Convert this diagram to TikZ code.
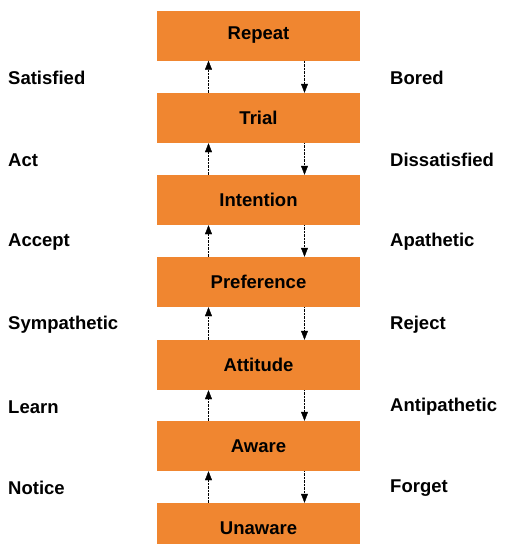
\documentclass[tikz,border=0pt]{standalone}
\usepackage{fontspec}
\setmainfont{Liberation Sans}
\usetikzlibrary{arrows.meta}
\definecolor{stageorange}{RGB}{240,134,48}
\begin{document}
\begin{tikzpicture}[x=1pt,y=-1pt]
\tikzstyle{stage}=[rectangle, fill=stageorange, minimum width=203pt, minimum height=50pt, inner sep=0pt, font=\fontsize{18.5}{20}\selectfont\bfseries]
\tikzstyle{up}=[draw, densely dotted, thin, -{Triangle[width=7pt,length=9pt]}]
\tikzstyle{down}=[draw, densely dotted, thin, -{Triangle[width=7pt,length=9pt]}]
\tikzstyle{cause}=[anchor=west, inner sep=0pt, font=\fontsize{18.5}{20}\selectfont\bfseries]
\useasboundingbox (0,0) rectangle (506,544);

% Stages
\node[stage] (repeat) at (258.5,35.5) {Repeat};
\node[stage] (trial) at (258.5,118) {Trial};
\node[stage] (intention) at (258.5,200) {Intention};
\node[stage] (preference) at (258.5,282) {Preference};
\node[stage] (attitude) at (258.5,365) {Attitude};
\node[stage] (aware) at (258.5,446) {Aware};
\node[stage] (unaware) at (258.5,528) {Unaware};

% Transitions
\draw[up] ([xshift=-50pt]trial.north) -- ([xshift=-50pt]repeat.south);
\draw[down] ([xshift=46pt]repeat.south) -- ([xshift=46pt]trial.north);
\draw[up] ([xshift=-50pt]intention.north) -- ([xshift=-50pt]trial.south);
\draw[down] ([xshift=46pt]trial.south) -- ([xshift=46pt]intention.north);
\draw[up] ([xshift=-50pt]preference.north) -- ([xshift=-50pt]intention.south);
\draw[down] ([xshift=46pt]intention.south) -- ([xshift=46pt]preference.north);
\draw[up] ([xshift=-50pt]attitude.north) -- ([xshift=-50pt]preference.south);
\draw[down] ([xshift=46pt]preference.south) -- ([xshift=46pt]attitude.north);
\draw[up] ([xshift=-50pt]aware.north) -- ([xshift=-50pt]attitude.south);
\draw[down] ([xshift=46pt]attitude.south) -- ([xshift=46pt]aware.north);
\draw[up] ([xshift=-50pt]unaware.north) -- ([xshift=-50pt]aware.south);
\draw[down] ([xshift=46pt]aware.south) -- ([xshift=46pt]unaware.north);

% Reasons to move up
\node[cause] (satisfied) at (8,78) {Satisfied};
\node[cause] (act) at (8,160) {Act};
\node[cause] (accept) at (8,242) {Accept};
\node[cause] (sympathetic) at (8,325) {Sympathetic};
\node[cause] (learn) at (8,407) {Learn};
\node[cause] (notice) at (8,488) {Notice};

% Reasons to move down
\node[cause] (bored) at (390,78) {Bored};
\node[cause] (dissatisfied) at (390,160) {Dissatisfied};
\node[cause] (apathetic) at (390,242) {Apathetic};
\node[cause] (reject) at (390,325) {Reject};
\node[cause] (antipathetic) at (390,407) {Antipathetic};
\node[cause] (forget) at (390,488) {Forget};
\end{tikzpicture}
\end{document}
